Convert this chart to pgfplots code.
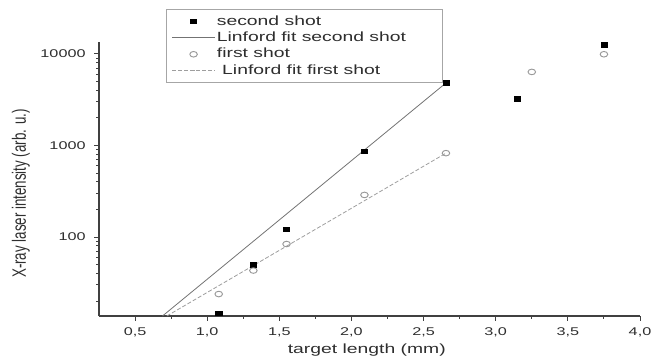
\documentclass[border=0pt]{standalone}
\usepackage{pgfplots}
\pgfplotsset{compat=1.18}
\usepackage{fontspec}
\setmainfont{Liberation Sans}[FakeStretch=1.45]
\newfontfamily\ylabfont{Liberation Sans}
\definecolor{txt}{gray}{0.18}
\definecolor{axcol}{gray}{0.25}
\definecolor{fitA}{gray}{0.45}
\definecolor{fitB}{gray}{0.62}
\begin{document}
\begin{tikzpicture}
\begin{axis}[
  name=ax,
  scale only axis,
  width=405.75pt, height=205.5pt,
  ymode=log,
  xmin=0.25, xmax=4.0,
  ymin=13.7, ymax=13500,
  axis lines*=left,
  axis line style={color=axcol, line width=0.9pt},
  xtick={0.5,1.0,...,4.0},
  minor xtick={0.75,1.25,...,3.75},
  ytick={100,1000,10000},
  yticklabels={100,1000,10000},
  minor ytick={20,30,40,50,60,70,80,90,200,300,400,500,600,700,800,900,2000,3000,4000,5000,6000,7000,8000,9000},
  tick align=outside,
  major tick length=3.5pt,
  minor tick length=2.2pt,
  tick style={color=axcol, line width=0.7pt},
  /pgf/number format/assume math mode=true,
  xticklabel style={font=\fontsize{8.4}{9}\selectfont, text=txt, yshift=-1.5pt, /pgf/number format/.cd, fixed, fixed zerofill, precision=1, use comma},
  yticklabel style={font=\fontsize{8.4}{9}\selectfont, text=txt, xshift=-3pt},
  xlabel={target length (mm)},
  xlabel style={font=\fontsize{10}{12}\selectfont, text=txt, at={(axis description cs:0.495,-0.124)}, anchor=center},
  ylabel={\scalebox{1}[1.45]{\ylabfont\fontsize{10}{12}\selectfont X-ray laser intensity (arb. u.)}},
  ylabel style={text=txt, at={(axis description cs:-0.1442,0.447)}, anchor=center},
  legend style={
    at={(axis description cs:0.1238,1.1204)}, anchor=north west,
    draw=gray!70, line width=0.8pt, inner xsep=4pt, inner ysep=3pt,
    font=\fontsize{10}{12}\selectfont, text=txt,
    row sep=0.4pt,
    nodes={inner sep=1.2pt, text height=7.5pt, text depth=2pt},
  },
  legend cell align=left,
  legend image code/.code={\draw[mark repeat=2, mark phase=2, #1] plot coordinates {(0pt,0pt) (16pt,0pt) (32pt,0pt)};},
]
% second shot
\addplot[only marks, mark=square*, mark size=1.7pt, mark options={xscale=1.4, fill=black, draw=black}] coordinates {
  (1.08,14.7) (1.32,49.4) (1.55,122) (2.09,860) (2.655,4820) (3.15,3220) (3.75,12540)
};
\addlegendentry{second shot}
% Linford fit second shot
\addplot[fitA, line width=0.6pt, no marks] coordinates {
  (0.69,13.7) (2.655,4820)
};
\addlegendentry{Linford fit second shot\hspace*{22pt}}
% first shot
\addplot[only marks, mark=o, mark size=2.1pt, mark options={xscale=1.35, draw=gray!80, line width=0.7pt}] coordinates {
  (1.08,23.8) (1.32,43) (1.55,83.8) (2.09,288) (2.655,824) (3.25,6360) (3.75,9920)
};
\addlegendentry{first shot}
% Linford fit first shot
\addplot[fitB, line width=0.6pt, dash pattern=on 3pt off 1.5pt, no marks] coordinates {
  (0.72,13.7) (2.655,824)
};
\addlegendentry{\hspace*{4pt}Linford fit first shot}
\end{axis}
\path ([shift={(-74.25pt,-33pt)}]ax.south west) rectangle ([shift={(17.25pt,31.5pt)}]ax.north east);
\end{tikzpicture}
\end{document}
